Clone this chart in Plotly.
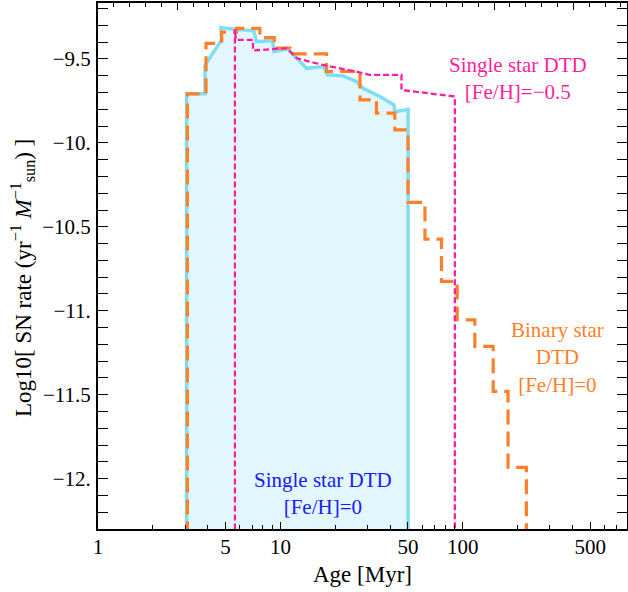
import math
import plotly.graph_objects as go

# ---------------- data ----------------
FLOOR = -13.0  # rate -> 0 (log -> -inf), drawn below the axis

# Single star DTD, [Fe/H]=0 (cyan, filled)
single0_age = [3.06, 3.06, 3.86, 3.86, 4.76, 4.72, 5.63, 7.16, 7.40, 9.06, 9.21, 11.0,
               13.9, 17.2, 18.1, 22.1, 26.1, 28.4, 35.1, 41.9, 42.4, 50.1, 50.1]
single0_rate = [FLOOR, -9.708, -9.708, -9.536, -9.387, -9.314, -9.323, -9.333, -9.397, -9.391,
                -9.457, -9.440, -9.556, -9.546, -9.595, -9.601, -9.635, -9.675, -9.724,
                -9.774, -9.814, -9.800, FLOOR]

# Single star DTD, [Fe/H]=-0.5 (magenta dashed)
single05_age = [5.63, 5.63, 5.70, 7.07, 7.07, 10.8, 12.3, 17.1, 26.1, 30.9, 46.1, 46.1, 90.4, 90.4]
single05_rate = [FLOOR, -9.323, -9.387, -9.387, -9.450, -9.436, -9.496, -9.536, -9.576,
                 -9.595, -9.595, -9.685, -9.724, FLOOR]

# Binary star DTD, [Fe/H]=0 (orange dashed, step)
binary_edges = [3.09, 3.91, 4.76, 5.75, 7.72, 9.25, 11.3, 17.9, 27.3, 33.6, 42.4, 50.1,
                62.0, 76.4, 93.1, 116.4, 146.7, 177.0, 223.0]
binary_levels = [-9.708, -9.407, -9.341, -9.318, -9.373, -9.436, -9.470, -9.575, -9.744,
                 -9.823, -9.923, -10.355, -10.573, -10.825, -11.054, -11.212, -11.480, -11.933]

x_tickvals = [1, 5, 10, 50, 100, 500]
x_ticktext = ["1", "5", "10", "50", "100", "500"]
x_minor = [2, 3, 4, 6, 7, 8, 9, 20, 30, 40, 60, 70, 80, 90, 200, 300, 400, 600, 700]
y_tickvals = [-9.5, -10.0, -10.5, -11.0, -11.5, -12.0]
y_ticktext = ["\u22129.5", "\u221210.", "\u221210.5", "\u221211.", "\u221211.5", "\u221212."]

X_RANGE_LOG = [0, 2.9]
Y_RANGE = [-12.3, -9.167]

# ---------------- styles ----------------
FONT = "Liberation Serif"
CYAN_LINE = "#80DDF6"
CYAN_FILL = "#E2F7FD"
MAGENTA = "#FF1F9E"
ORANGE = "#FF7F2A"
BLUE = "#1A1AFF"

# build step points for binary
bx = [binary_edges[0]]
by = [FLOOR]
for i, lv in enumerate(binary_levels):
    bx.append(binary_edges[i])
    by.append(lv)
bx += [binary_edges[-1], binary_edges[-1]]
by += [binary_levels[-1], FLOOR]

fig = go.Figure()
fig.add_trace(go.Scatter(x=single0_age, y=single0_rate, mode="lines", fill="toself",
                         fillcolor=CYAN_FILL, line=dict(color=CYAN_LINE, width=3.5),
                         hoverinfo="skip", showlegend=False))
fig.add_trace(go.Scatter(x=bx, y=by, mode="lines", line_shape="hv",
                         line=dict(color=ORANGE, width=3.2, dash="15px,7px"),
                         hoverinfo="skip", showlegend=False))
fig.add_trace(go.Scatter(x=single05_age, y=single05_rate, mode="lines",
                         line=dict(color=MAGENTA, width=2.3, dash="6px,3px"),
                         hoverinfo="skip", showlegend=False))
# dummy trace for the top (natural-log) frame axis
fig.add_trace(go.Scatter(x=[None], y=[None], xaxis="x2", yaxis="y", showlegend=False,
                         hoverinfo="skip", mode="lines"))

L, R, T, B = 98, 1, 3, 63
W, H = 628, 592
pw, ph = W - L - R, H - T - B

def px_to_paper(px, py):
    return (px - L) / pw, (H - B - py) / ph

fig.update_layout(
    width=W, height=H,
    margin=dict(l=L, r=R, t=T, b=B, autoexpand=False),
    plot_bgcolor="white", paper_bgcolor="white",
    font=dict(family=FONT, size=21, color="black"),
    xaxis=dict(type="log", range=X_RANGE_LOG, tickvals=x_tickvals, ticktext=x_ticktext,
               ticks="inside", ticklen=7, tickwidth=1.2, tickcolor="black",
               showline=True, linecolor="black", linewidth=2, mirror=True,
               showgrid=False, zeroline=False, ticklabelstandoff=-2, automargin=False,
               minor=dict(tickvals=x_minor, ticks="inside", ticklen=4, tickwidth=1, tickcolor="black")),
    xaxis2=dict(overlaying="x", side="top", anchor="y", range=[0, X_RANGE_LOG[1] * math.log(10)],
                tickvals=[1, 2, 3, 4, 5, 6], ticks="inside", ticklen=7, tickwidth=1.2,
                tickcolor="black", showticklabels=False, showgrid=False, zeroline=False,
                showline=False, automargin=False,
                minor=dict(dtick=0.2, tick0=0, ticks="inside", ticklen=4, tickwidth=1, tickcolor="black")),
    yaxis=dict(range=Y_RANGE, tickvals=y_tickvals, ticktext=y_ticktext,
               ticks="inside", ticklen=10, tickwidth=1.2, tickcolor="black",
               showline=True, linecolor="black", linewidth=2, mirror="allticks",
               showgrid=False, zeroline=False, ticklabelstandoff=1, automargin=False,
               minor=dict(dtick=0.1, tick0=-12, ticks="inside", ticklen=5, tickwidth=1, tickcolor="black")),
)

annots = [
    ("Single star DTD<br>[Fe/H]=\u22120.5", 518, 78, MAGENTA, 21, 0),
    ("Binary star<br>DTD<br>[Fe/H]=0", 557, 358, ORANGE, 21, 0),
    ("Single star DTD<br>[Fe/H]=0", 323, 493, BLUE, 21, 0),
    ("Age [Myr]", 362, 574, "black", 23, 0),
    ("Log10[ SN rate (yr<sup>\u22121</sup> <i>M</i><sup>\u22121</sup><sub>sun</sub>) ]", 22, 278, "black", 23, -90),
]
for text, ax_, ay_, col, sz, ang in annots:
    xp, yp = px_to_paper(ax_, ay_)
    fig.add_annotation(text=text, x=xp, y=yp, xref="paper", yref="paper", showarrow=False,
                       font=dict(color=col, size=sz), align="center", textangle=ang,
                       xanchor="center", yanchor="middle")

fig.write_html("out.html", config={"displayModeBar": False},
               post_script="document.body.style.margin='0';")
